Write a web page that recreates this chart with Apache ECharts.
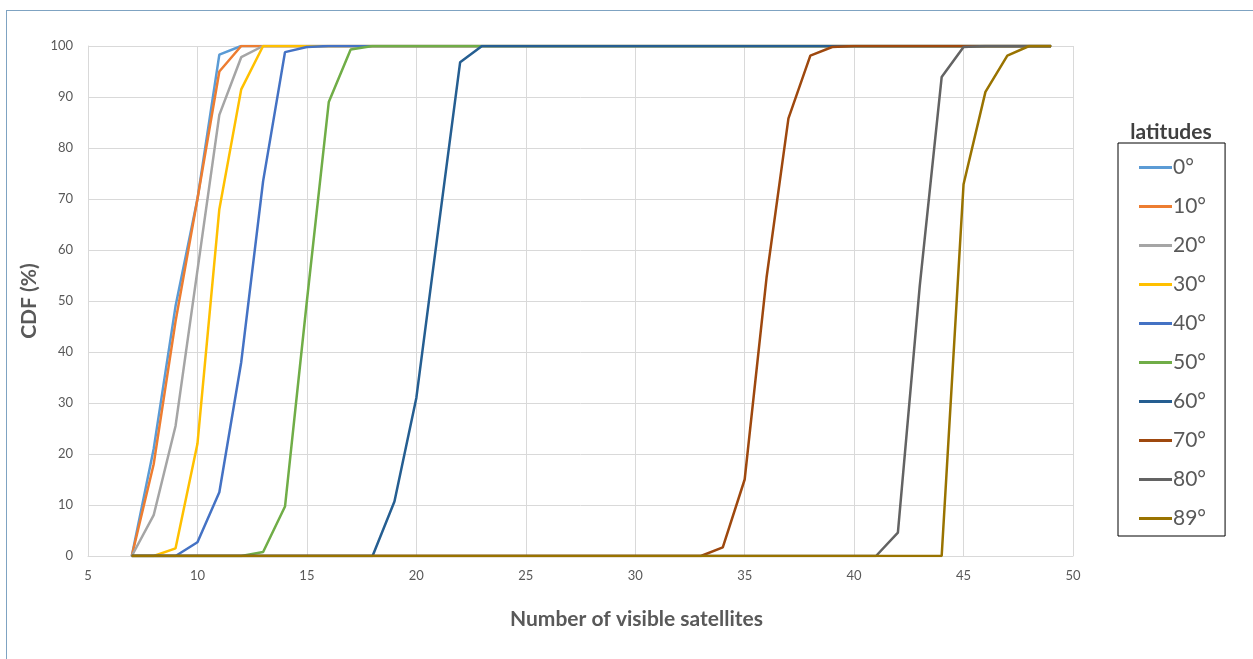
<!DOCTYPE html>
<html>
<head>
<meta charset="utf-8">
<script src="https://cdn.jsdelivr.net/npm/echarts@6/dist/echarts.min.js"></script>
<style>
  html, body { margin: 0; padding: 0; background: #fff; }
  #frame { position: absolute; left: 6px; top: 10px; width: 1300px; height: 700px;
           border-left: 1px solid #7fa3c2; border-top: 1px solid #7fa3c2; }
  #main { position: absolute; left: 0; top: 0; width: 1253px; height: 659px; }
</style>
</head>
<body>
<div id="frame"></div>
<div id="main"></div>
<script>
// number of visible satellites (x)
var sats = [7,8,9,10,11,12,13,14,15,16,17,18,19,20,21,22,23,24,25,26,27,28,
            29,30,31,32,33,34,35,36,37,38,39,40,41,42,43,44,45,46,47,48,49];

var latNames = ['0°','10°','20°','30°','40°','50°','60°','70°','80°','89°'];
var latColors = ['#5b9bd5','#ed7d31','#a5a5a5','#ffc000','#4472c4',
                 '#70ad47','#255e91','#9e480e','#636363','#997300'];

// CDF (%) per latitude, one value per entry of sats
var lat0  = [0,21,49,70,98.3,100,100,100,100,100,100,100,100,100,100,100,100,100,100,100,100,100,
             100,100,100,100,100,100,100,100,100,100,100,100,100,100,100,100,100,100,100,100,100];
var lat10 = [0,18,46,70,95,100,100,100,100,100,100,100,100,100,100,100,100,100,100,100,100,100,
             100,100,100,100,100,100,100,100,100,100,100,100,100,100,100,100,100,100,100,100,100];
var lat20 = [0,8,25.5,56,86.5,97.8,100,100,100,100,100,100,100,100,100,100,100,100,100,100,100,100,
             100,100,100,100,100,100,100,100,100,100,100,100,100,100,100,100,100,100,100,100,100];
var lat30 = [0,0,1.5,22,68,91.5,100,100,100,100,100,100,100,100,100,100,100,100,100,100,100,100,
             100,100,100,100,100,100,100,100,100,100,100,100,100,100,100,100,100,100,100,100,100];
var lat40 = [0,0,0,2.7,12.5,38,73.5,98.8,99.8,100,100,100,100,100,100,100,100,100,100,100,100,100,
             100,100,100,100,100,100,100,100,100,100,100,100,100,100,100,100,100,100,100,100,100];
var lat50 = [0,0,0,0,0,0,0.8,9.7,50,89,99.3,100,100,100,100,100,100,100,100,100,100,100,
             100,100,100,100,100,100,100,100,100,100,100,100,100,100,100,100,100,100,100,100,100];
var lat60 = [0,0,0,0,0,0,0,0,0,0,0,0,10.7,31,64,96.8,100,100,100,100,100,100,
             100,100,100,100,100,100,100,100,100,100,100,100,100,100,100,100,100,100,100,100,100];
var lat70 = [0,0,0,0,0,0,0,0,0,0,0,0,0,0,0,0,0,0,0,0,0,0,
             0,0,0,0,0,1.7,15,54.6,85.8,98.1,99.8,100,100,100,100,100,100,100,100,100,100];
var lat80 = [0,0,0,0,0,0,0,0,0,0,0,0,0,0,0,0,0,0,0,0,0,0,
             0,0,0,0,0,0,0,0,0,0,0,0,0,4.6,53,93.9,99.8,100,100,100,100];
var lat89 = [0,0,0,0,0,0,0,0,0,0,0,0,0,0,0,0,0,0,0,0,0,0,
             0,0,0,0,0,0,0,0,0,0,0,0,0,0,0,0,72.9,91,98.1,100,100];

var allLats = [lat0,lat10,lat20,lat30,lat40,lat50,lat60,lat70,lat80,lat89];

var font = 'Lato, "Open Sans", sans-serif';

var series = [];
for (var i = 0; i < allLats.length; i++) {
  var pts = [];
  for (var j = 0; j < sats.length; j++) pts.push([sats[j], allLats[i][j]]);
  series.push({
    name: latNames[i],
    type: 'line',
    data: pts,
    symbol: 'none',
    color: latColors[i],
    lineStyle: { width: 2.5, color: latColors[i] },
    animation: false
  });
}

var myChart = echarts.init(document.getElementById('main'));
myChart.setOption({
  animation: false,
  title: {
    text: 'latitudes',
    left: 1166,
    top: 117,
    textAlign: 'center',
    textStyle: { fontFamily: font, fontSize: 21, fontWeight: 'bold', color: '#404040' }
  },
  legend: {
    orient: 'vertical',
    left: 1118,
    top: 143,
    padding: [14, 19, 7, 21],
    borderColor: '#000',
    borderWidth: 1,
    itemWidth: 33,
    itemHeight: 3,
    itemGap: 18,
    icon: 'rect',
    data: latNames,
    textStyle: { fontFamily: font, fontSize: 21, color: '#595959', lineHeight: 20, padding: [0,0,0,-4] }
  },
  grid: { left: 88, top: 46, width: 985, height: 510, containLabel: false },
  xAxis: {
    type: 'value',
    min: 5, max: 50, interval: 5,
    name: 'Number of visible satellites',
    nameLocation: 'middle',
    nameGap: 53,
    nameTextStyle: { fontFamily: font, fontSize: 21, fontWeight: 'bold', color: '#595959',
                     padding: [0, 0, 0, 112] },
    axisLine: { show: true, lineStyle: { color: '#d9d9d9' } },
    axisTick: { show: false },
    axisLabel: { fontFamily: font, fontSize: 13, color: '#595959', margin: 13 },
    splitLine: { show: true, lineStyle: { color: '#d9d9d9' } }
  },
  yAxis: {
    type: 'value',
    min: 0, max: 100, interval: 10,
    name: 'CDF (%)',
    nameLocation: 'middle',
    nameGap: 35,
    nameTextStyle: { fontFamily: font, fontSize: 21, fontWeight: 'bold', color: '#595959' },
    axisLine: { show: true, lineStyle: { color: '#d9d9d9' } },
    axisTick: { show: false },
    axisLabel: { fontFamily: font, fontSize: 13, color: '#595959', margin: 15 },
    splitLine: { show: true, lineStyle: { color: '#d9d9d9' } }
  },
  series: series
});
</script>
</body>
</html>
